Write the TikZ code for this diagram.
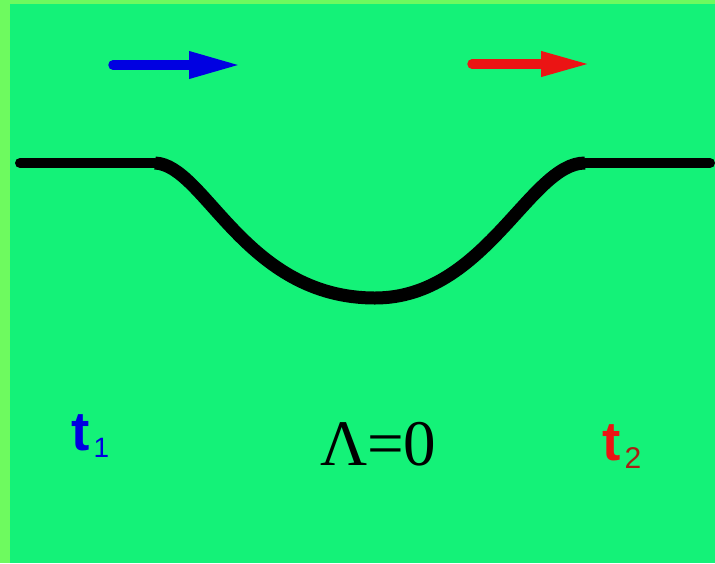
\documentclass[tikz,border=0pt]{standalone}
\usepackage{fontspec}
\setmainfont{Liberation Serif}
\newfontfamily\arialfont{Liberation Sans}
\usetikzlibrary{arrows.meta}
\definecolor{bgout}{RGB}{110,250,95}
\definecolor{bgin}{RGB}{20,242,120}
\definecolor{arrblue}{RGB}{0,0,225}
\definecolor{arrred}{RGB}{235,20,20}
\definecolor{darkred}{RGB}{170,30,20}
\tikzset{
  flatline/.style={line width=10pt, black, line cap=round},
  dip/.style={line width=13pt, black},
  movearrow/.style={line width=9.5pt, line cap=round},
  lbl/.style={inner sep=0pt, anchor=base west}
}
\begin{document}
\begin{tikzpicture}[x=1pt,y=-1pt]
\useasboundingbox (0,0) rectangle (715,563);
\fill[bgout] (0,0) rectangle (715,563);
\fill[bgin] (10,4) rectangle (715,563);
% arrows
\coordinate (b1) at (113,65);
\coordinate (b2) at (241,65);
\coordinate (r1) at (472,64);
\coordinate (r2) at (591,64);
\draw[movearrow, arrblue, -{Triangle[length=52pt,width=25pt]}] (b1) -- (b2);
\draw[movearrow, arrred, -{Triangle[length=50pt,width=23pt]}] (r1) -- (r2);
% curve
\coordinate (L0) at (20,163);
\coordinate (L1) at (155,163);
\coordinate (M) at (375,298);
\coordinate (R1) at (585,163);
\coordinate (R0) at (710,163);
\draw[flatline] (L0) -- (L1);
\draw[flatline] (R1) -- (R0);
\draw[dip] (L1) .. controls (205,165) and (245,298) .. (M)
  .. controls (485,298) and (530,163) .. (R1);
% labels
\node[lbl, arrblue] (t1) at (71,450) {\arialfont\fontsize{55}{55}\selectfont\bfseries t\hspace{4pt}\raisebox{-7pt}{\fontsize{28}{28}\selectfont\mdseries 1}};
\node[lbl] (lam) at (320,465) {\fontsize{65}{65}\selectfont Λ=0};
\node[lbl, arrred] (t2) at (602,460) {\arialfont\fontsize{55}{55}\selectfont\bfseries t\hspace{4pt}\raisebox{-8pt}{\fontsize{30}{30}\selectfont\mdseries\color{darkred}2}};
\end{tikzpicture}
\end{document}
